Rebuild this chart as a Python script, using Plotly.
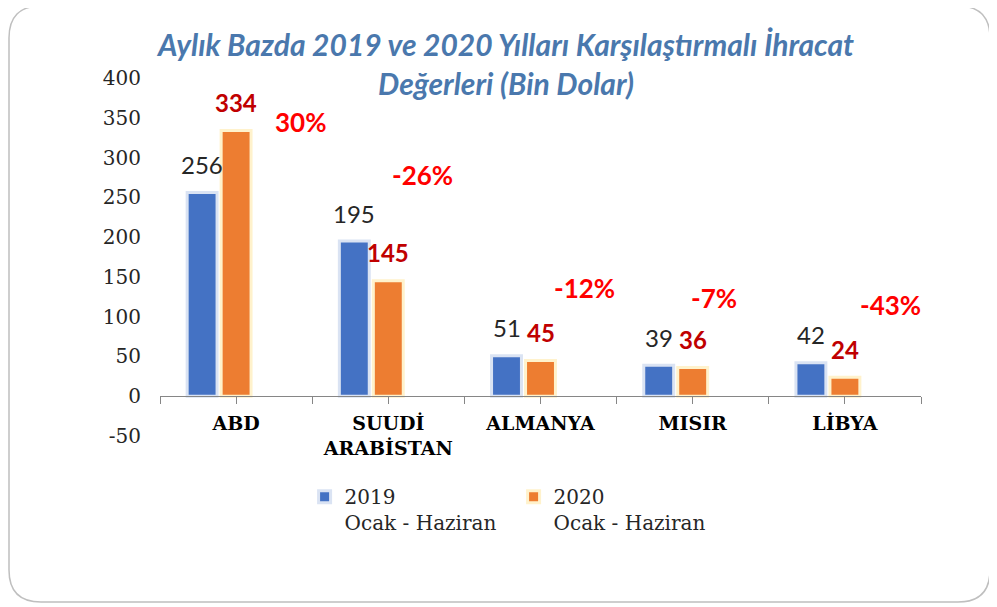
import plotly.graph_objects as go

categories = ["ABD", "SUUDİ<br>ARABİSTAN", "ALMANYA", "MISIR", "LİBYA"]
values_2019 = [256, 195, 51, 39, 42]
values_2020 = [334, 145, 45, 36, 24]
pct_change = [30, -26, -12, -7, -43]
pct_label_y = [345, 278, 136, 123, 115]
pct_label_xshift = [64, 34, 44, 21, 46]
y_ticks = [-50, 0, 50, 100, 150, 200, 250, 300, 350, 400]

BLUE = "#4472c4"
ORANGE = "#ed7d31"
BARGAP = 0.33
x = list(range(len(categories)))
slot = (1 - BARGAP) / 3

# page has an 8px body margin; figure is sized so that it fills the 997x607 window
W, H = 989, 599
L, R, T, B = 152, 76, 70, 171
PW, PH = W - L - R, H - T - B

fig = go.Figure()
fig.add_trace(go.Bar(x=x, y=values_2019, name="2019<br>Ocak - Haziran",
                     marker=dict(color=BLUE, line=dict(color="#dae3f3", width=3)),
                     hoverinfo="skip"))
fig.add_trace(go.Bar(x=x, y=values_2020, name="2020<br>Ocak - Haziran",
                     marker=dict(color=ORANGE, line=dict(color="#fff2cc", width=3)),
                     hoverinfo="skip"))
fig.add_trace(go.Bar(x=x, y=pct_change, name="pct", showlegend=False,
                     marker=dict(color="rgba(0,0,0,0)", line=dict(width=0)),
                     hoverinfo="skip"))

annotations = []
for i in x:
    annotations.append(dict(x=i - slot, y=values_2019[i], xref="x", yref="y",
                            text=str(values_2019[i]), showarrow=False,
                            yanchor="middle", yshift=28,
                            font=dict(family="Lato", size=24, color="#262626")))
    annotations.append(dict(x=i, y=values_2020[i], xref="x", yref="y",
                            text="<b>%d</b>" % values_2020[i], showarrow=False,
                            yanchor="middle", yshift=28,
                            font=dict(family="Lato", size=24, color="#c00000")))
    annotations.append(dict(x=i, y=pct_label_y[i], xref="x", yref="y",
                            text="<b>%d%%</b>" % pct_change[i], showarrow=False,
                            yanchor="middle", xshift=pct_label_xshift[i],
                            font=dict(family="Lato", size=26, color="#ff0000")))


def px_to_paper(path):
    out = []
    for tok in path.split():
        if "," in tok:
            px, py = map(float, tok.split(","))
            out.append("%.5f,%.5f" % ((px - L) / PW, (T + PH - py) / PH))
        else:
            out.append(tok)
    return " ".join(out)


frame = "M 1,30 Q 1,-2 33,-2 L 950,-2 Q 982,-2 982,30 L 982,562 Q 982,594 950,594 L 33,594 Q 1,594 1,562 Z"

fig.update_layout(
    width=W, height=H,
    margin=dict(l=L, r=R, t=T, b=B),
    paper_bgcolor="white", plot_bgcolor="white",
    barmode="group", bargap=BARGAP, bargroupgap=0.12,
    title=dict(text="<b><i>Aylık Bazda 2019 ve 2020 Yılları Karşılaştırmalı İhracat<br>Değerleri (Bin Dolar)</i></b>",
               x=(506 - 8) / W, xanchor="center", y=1 - 48 / H, yanchor="top",
               xref="container", yref="container",
               font=dict(family="Lato", size=30, color="#4a78ad")),
    xaxis=dict(range=[-0.5, 4.5], tickvals=x, ticktext=["<b>%s</b>" % c for c in categories],
               anchor="free", position=40 / PH, showline=True, linecolor="#868686", linewidth=1.3,
               ticks="outside", ticklen=7, tickcolor="#868686", showgrid=False, zeroline=False,
               minor=dict(tickvals=[i - 0.5 for i in range(len(categories) + 1)], ticks="outside",
                          ticklen=7, tickcolor="#868686", showgrid=False),
               tickfont=dict(family="DejaVu Serif", size=19, color="black"),
               ticklabelstandoff=3, fixedrange=True),
    yaxis=dict(range=[-50, 400], tickvals=y_ticks, ticktext=[str(v) for v in y_ticks],
               showgrid=False, zeroline=False,
               showline=False, ticks="", ticklabelstandoff=18,
               tickfont=dict(family="DejaVu Serif", size=20, color="#262626"),
               fixedrange=True),
    legend=dict(orientation="h", x=0.19, xanchor="left", y=-0.115, yanchor="top",
                valign="top", entrywidth=164, entrywidthmode="pixels",
                font=dict(family="DejaVu Serif", size=20, color="#262626")),
    annotations=annotations,
    shapes=[dict(type="path", xref="paper", yref="paper", path=px_to_paper(frame),
                 line=dict(color="#bfbfbf", width=1.5), layer="below")],
)

fig.write_html("out.html")
